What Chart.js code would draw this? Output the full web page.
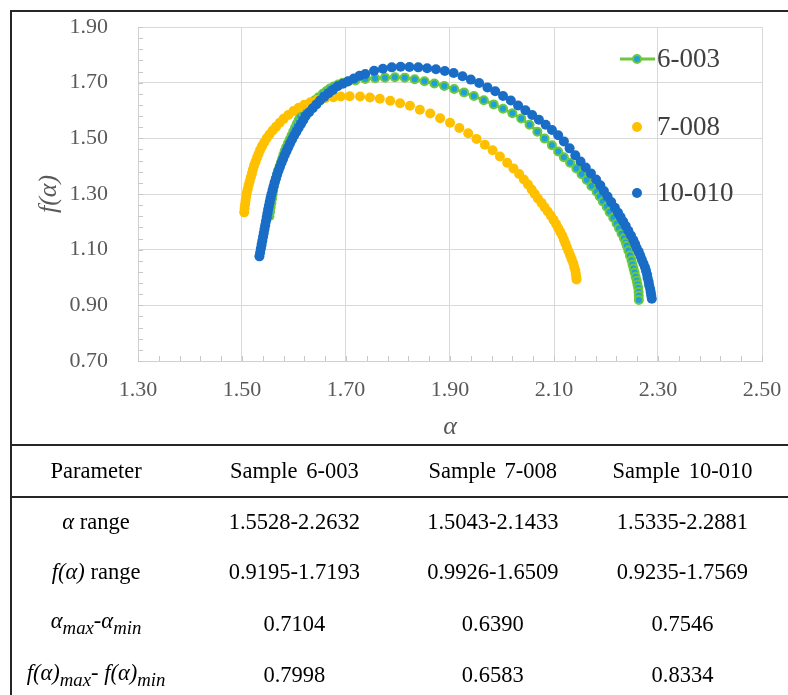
<!DOCTYPE html>
<html>
<head>
<meta charset="utf-8">
<script src="https://cdn.jsdelivr.net/npm/chart.js@4.4.1/dist/chart.umd.min.js"></script>
<style>
  html, body { margin: 0; padding: 0; background: #fff; }
  body { width: 788px; height: 695px; overflow: hidden; position: relative; font-family: 'Liberation Serif', 'Times New Roman', serif; }
  #chart { position: absolute; left: 0; top: 0; }
  .frame { position: absolute; left: 10px; top: 10px; width: 820px; height: 700px; border-left: 2px solid #262626; border-top: 2px solid #262626; pointer-events: none; }
  table { position: absolute; left: 12px; top: 444px; border-collapse: collapse; font-size: 22.5px; color: #000; }
  td, th { font-weight: normal; text-align: center; padding: 0; white-space: nowrap; }
  thead tr { height: 52px; border-top: 2px solid #262626; border-bottom: 2px solid #262626; }
  tbody tr:nth-child(1) { height: 49px; }
  tbody tr:nth-child(2) { height: 52px; }
  tbody tr:nth-child(3) { height: 51px; }
  tbody tr:nth-child(4) { height: 52px; }
  .ws { word-spacing: 3px; }
</style>
</head>
<body>
<canvas id="chart" width="788" height="445"></canvas>
<div class="frame"></div>
<table id="tbl"></table>
<script>
// f(α) spectra, [alpha, f(alpha)]
const sample6003 = [
  [1.5528,1.220],[1.5540,1.236],[1.5552,1.252],[1.5565,1.268],[1.5578,1.284],[1.5590,1.300],
  [1.5601,1.314],[1.5612,1.328],[1.5627,1.342],[1.5650,1.356],[1.5673,1.370],[1.5697,1.384],
  [1.5722,1.398],[1.5748,1.412],[1.5772,1.426],[1.5796,1.440],[1.5820,1.454],[1.5850,1.468],
  [1.5884,1.482],[1.5918,1.496],[1.5952,1.510],[1.5986,1.524],[1.6020,1.538],[1.6055,1.552],
  [1.6090,1.566],[1.6120,1.578],[1.6180,1.590],[1.6235,1.602],[1.6295,1.614],[1.6350,1.626],
  [1.6400,1.637],[1.6475,1.648],[1.6555,1.660],[1.6625,1.670],[1.6690,1.679],[1.6765,1.686],
  [1.6850,1.693],[1.6940,1.700],[1.7030,1.7035],[1.7180,1.708],[1.7370,1.713],[1.7560,1.716],
  [1.7750,1.718],[1.7940,1.7193],[1.8130,1.718],[1.8320,1.712],[1.8510,1.705],[1.8700,1.697],
  [1.8890,1.688],[1.9080,1.677],[1.9270,1.665],[1.9460,1.652],[1.9650,1.637],[1.9840,1.622],
  [2.0020,1.606],[2.0200,1.590],[2.0370,1.571],[2.0530,1.549],[2.0680,1.524],[2.0820,1.499],
  [2.0960,1.475],[2.1080,1.453],[2.1190,1.432],[2.1310,1.412],[2.1430,1.392],[2.1530,1.371],
  [2.1630,1.350],[2.1720,1.329],[2.1820,1.308],[2.1880,1.291],[2.1940,1.273],[2.2013,1.254],
  [2.2070,1.235],[2.2140,1.215],[2.2205,1.194],[2.2250,1.177],[2.2300,1.158],[2.2345,1.141],
  [2.2380,1.126],[2.2400,1.114],[2.2430,1.097],[2.2460,1.079],[2.2490,1.062],[2.2510,1.047],
  [2.2530,1.032],[2.2550,1.018],[2.2570,1.003],[2.2590,0.988],[2.2605,0.975],[2.2620,0.962],
  [2.2627,0.948],[2.2630,0.934],[2.2632,0.9195]
];
const sample7008 = [
  [1.5043,1.234],[1.5050,1.248],[1.5058,1.262],[1.5068,1.276],[1.5080,1.290],[1.5093,1.304],
  [1.5110,1.318],[1.5128,1.332],[1.5148,1.346],[1.5168,1.360],[1.5190,1.374],[1.5210,1.388],
  [1.5232,1.402],[1.5260,1.416],[1.5288,1.430],[1.5318,1.444],[1.5348,1.458],[1.5385,1.472],
  [1.5428,1.486],[1.5475,1.500],[1.5528,1.514],[1.5590,1.528],[1.5655,1.542],[1.5725,1.556],
  [1.5800,1.570],[1.5890,1.584],[1.5990,1.598],[1.6090,1.610],[1.6200,1.621],[1.6320,1.630],
  [1.6450,1.638],[1.6600,1.644],[1.6756,1.648],[1.6900,1.650],[1.7070,1.6509],[1.7270,1.650],
  [1.7460,1.647],[1.7650,1.642],[1.7850,1.635],[1.8040,1.626],[1.8230,1.617],[1.8420,1.603],
  [1.8620,1.589],[1.8810,1.572],[1.9000,1.556],[1.9180,1.537],[1.9350,1.518],[1.9510,1.498],
  [1.9670,1.477],[1.9820,1.457],[1.9960,1.435],[2.0100,1.412],[2.0220,1.392],[2.0330,1.372],
  [2.0420,1.352],[2.0500,1.334],[2.0570,1.316],[2.0630,1.300],[2.0690,1.284],[2.0760,1.268],
  [2.0820,1.252],[2.0880,1.237],[2.0940,1.222],[2.0990,1.207],[2.1040,1.192],[2.1080,1.178],
  [2.1120,1.164],[2.1160,1.150],[2.1190,1.136],[2.1220,1.122],[2.1250,1.108],[2.1280,1.094],
  [2.1310,1.080],[2.1340,1.066],[2.1370,1.052],[2.1390,1.038],[2.1410,1.025],[2.1420,1.012],
  [2.1430,1.000],[2.1433,0.9926]
];
const sample10010 = [
  [1.5335,1.076],[1.5349,1.090],[1.5363,1.104],[1.5377,1.118],[1.5391,1.132],[1.5405,1.146],
  [1.5419,1.160],[1.5433,1.174],[1.5447,1.188],[1.5461,1.202],[1.5475,1.216],[1.5488,1.230],
  [1.5502,1.244],[1.5517,1.258],[1.5533,1.272],[1.5550,1.286],[1.5568,1.300],[1.5588,1.314],
  [1.5608,1.328],[1.5630,1.342],[1.5652,1.356],[1.5676,1.370],[1.5702,1.384],[1.5730,1.398],
  [1.5760,1.412],[1.5790,1.426],[1.5822,1.440],[1.5855,1.454],[1.5890,1.468],[1.5925,1.482],
  [1.5963,1.496],[1.6003,1.510],[1.6045,1.524],[1.6090,1.538],[1.6135,1.552],[1.6180,1.566],
  [1.6225,1.580],[1.6290,1.594],[1.6360,1.608],[1.6430,1.622],[1.6500,1.636],[1.6580,1.649],
  [1.6665,1.662],[1.6750,1.674],[1.6840,1.687],[1.6940,1.696],[1.7040,1.705],[1.7150,1.715],
  [1.7260,1.725],[1.7370,1.731],[1.7540,1.743],[1.7710,1.750],[1.7880,1.755],[1.8050,1.7569],
  [1.8220,1.7565],[1.8390,1.755],[1.8560,1.752],[1.8730,1.748],[1.8900,1.742],[1.9070,1.735],
  [1.9240,1.723],[1.9400,1.711],[1.9560,1.699],[1.9720,1.683],[1.9870,1.669],[2.0020,1.652],
  [2.0170,1.636],[2.0310,1.618],[2.0450,1.601],[2.0580,1.584],[2.0710,1.567],[2.0840,1.549],
  [2.0960,1.530],[2.1080,1.511],[2.1190,1.489],[2.1300,1.464],[2.1410,1.439],[2.1510,1.417],
  [2.1610,1.395],[2.1710,1.374],[2.1810,1.352],[2.1890,1.331],[2.1960,1.311],[2.2030,1.291],
  [2.2100,1.271],[2.2170,1.251],[2.2230,1.233],[2.2280,1.217],[2.2330,1.201],[2.2380,1.185],
  [2.2430,1.168],[2.2480,1.151],[2.2525,1.135],[2.2560,1.120],[2.2590,1.106],[2.2630,1.092],
  [2.2660,1.078],[2.2690,1.064],[2.2720,1.050],[2.2750,1.037],[2.2770,1.024],[2.2790,1.011],
  [2.2800,0.998],[2.2820,0.985],[2.2830,0.972],[2.2850,0.959],[2.2860,0.947],[2.2870,0.935],
  [2.2881,0.9235]
];

const seriesNames = ['6-003', '7-008', '10-010'];

// table below the chart
const tableHeader = ['Parameter', 'Sample 6-003', 'Sample 7-008', 'Sample 10-010'];
const rowLabels = [
  '<i>α</i> range',
  '<i>f(α)</i> range',
  '<i>α<sub>max</sub></i>-<i>α<sub>min</sub></i>',
  '<i>f(α)<sub>max</sub></i>- <i>f(α)<sub>min</sub></i>'
];
const alphaRange = ['1.5528-2.2632', '1.5043-2.1433', '1.5335-2.2881'];
const fRange = ['0.9195-1.7193', '0.9926-1.6509', '0.9235-1.7569'];
const alphaSpan = ['0.7104', '0.6390', '0.7546'];
const fSpan = ['0.7998', '0.6583', '0.8334'];

const GREEN = '#6cc83c';
const LIGHTBLUE = '#1ea0dc';
const YELLOW = '#ffc000';
const BLUE = '#1a6dc6';
const GREY = '#595959';
const SERIF = "'Liberation Serif', 'Times New Roman', serif";

const toPoints = arr => arr.map(p => ({ x: p[0], y: p[1] }));

// small inside tick marks every 0.04
const minorTicks = {
  id: 'minorTicks',
  beforeDatasetsDraw(chart) {
    const { ctx, chartArea: a, scales: { x, y } } = chart;
    ctx.save();
    ctx.strokeStyle = '#c8c8c8';
    ctx.lineWidth = 1;
    ctx.beginPath();
    for (let i = 0; i <= 30; i++) {
      const px = Math.round(x.getPixelForValue(x.min + i * 0.04)) + 0.5;
      ctx.moveTo(px, a.bottom);
      ctx.lineTo(px, a.bottom - 5);
      const py = Math.round(y.getPixelForValue(y.min + i * 0.04)) + 0.5;
      ctx.moveTo(a.left, py);
      ctx.lineTo(a.left + 5, py);
    }
    ctx.stroke();
    ctx.restore();
  }
};

// legend sitting inside the plot area, like the original
const insideLegend = {
  id: 'insideLegend',
  beforeDatasetsDraw(chart) {
    const ctx = chart.ctx;
    const rows = [59, 127, 193];
    const mx = 637;
    ctx.save();
    chart.data.datasets.forEach((ds, i) => {
      const y = rows[i];
      if (ds.showLine) {
        ctx.strokeStyle = ds.borderColor;
        ctx.lineWidth = 3;
        ctx.beginPath();
        ctx.moveTo(620, y);
        ctx.lineTo(655, y);
        ctx.stroke();
      }
      ctx.beginPath();
      ctx.arc(mx, y, ds.pointRadius, 0, Math.PI * 2);
      ctx.fillStyle = ds.pointBackgroundColor;
      ctx.fill();
      if (ds.pointBorderWidth) {
        ctx.lineWidth = ds.pointBorderWidth;
        ctx.strokeStyle = ds.pointBorderColor;
        ctx.stroke();
      }
      ctx.fillStyle = '#404040';
      ctx.font = '27px ' + SERIF;
      ctx.textBaseline = 'middle';
      ctx.textAlign = 'left';
      ctx.fillText(ds.label, 657, y + 1);
    });
    ctx.restore();
  }
};

const ctx = document.getElementById('chart').getContext('2d');
const chart = new Chart(ctx, {
  type: 'scatter',
  data: {
    datasets: [{
      label: seriesNames[0],
      data: toPoints(sample6003),
      showLine: true,
      borderColor: GREEN,
      borderWidth: 3,
      pointRadius: 4,
      pointBackgroundColor: LIGHTBLUE,
      pointBorderColor: GREEN,
      pointBorderWidth: 2,
      order: 3
    }, {
      label: seriesNames[1],
      data: toPoints(sample7008),
      showLine: false,
      pointRadius: 5,
      pointBackgroundColor: YELLOW,
      pointBorderColor: YELLOW,
      pointBorderWidth: 0,
      order: 2
    }, {
      label: seriesNames[2],
      data: toPoints(sample10010),
      showLine: false,
      pointRadius: 5,
      pointBackgroundColor: BLUE,
      pointBorderColor: BLUE,
      pointBorderWidth: 0,
      order: 1
    }]
  },
  options: {
    responsive: false,
    animation: false,
    devicePixelRatio: 1,
    layout: { padding: { top: 27, right: 26, left: 0, bottom: 0 } },
    plugins: { legend: { display: false }, tooltip: { enabled: false } },
    scales: {
      x: {
        type: 'linear',
        min: 1.3,
        max: 2.5,
        ticks: { stepSize: 0.2, padding: 16, color: GREY, font: { family: SERIF, size: 22 }, callback: v => v.toFixed(2) },
        grid: { color: '#d9d9d9', drawTicks: false },
        border: { color: '#d0d0d0' },
        title: { display: true, text: 'α', color: GREY, padding: 2, font: { family: SERIF, size: 26, style: 'italic' } },
        afterFit: s => { s.height = 84; s.paddingLeft = 0; s.paddingRight = 0; }
      },
      y: {
        type: 'linear',
        min: 0.7,
        max: 1.9,
        ticks: { stepSize: 0.2, padding: 30, color: GREY, font: { family: SERIF, size: 22 }, callback: v => v.toFixed(2) },
        grid: { color: '#d9d9d9', drawTicks: false },
        border: { color: '#d0d0d0' },
        title: { display: true, text: 'f(α)', color: GREY, padding: 34, font: { family: SERIF, size: 26, style: 'italic' } },
        afterFit: s => { s.width = 138; s.paddingTop = 0; s.paddingBottom = 0; }
      }
    }
  },
  plugins: [minorTicks, insideLegend]
});

// build the parameter table
const tbl = document.getElementById('tbl');
const colWidths = [171, 238, 172, 218];
let html = '<colgroup>' + colWidths.map(w => '<col style="width:' + w + 'px">').join('') + '</colgroup>';
html += '<thead><tr>' + tableHeader.map(h => '<th class="ws">' + h + '</th>').join('') + '</tr></thead><tbody>';
[alphaRange, fRange, alphaSpan, fSpan].forEach((vals, i) => {
  html += '<tr><td>' + rowLabels[i] + '</td>' + vals.map(v => '<td>' + v + '</td>').join('') + '</tr>';
});
html += '</tbody>';
tbl.innerHTML = html;
</script>
</body>
</html>
